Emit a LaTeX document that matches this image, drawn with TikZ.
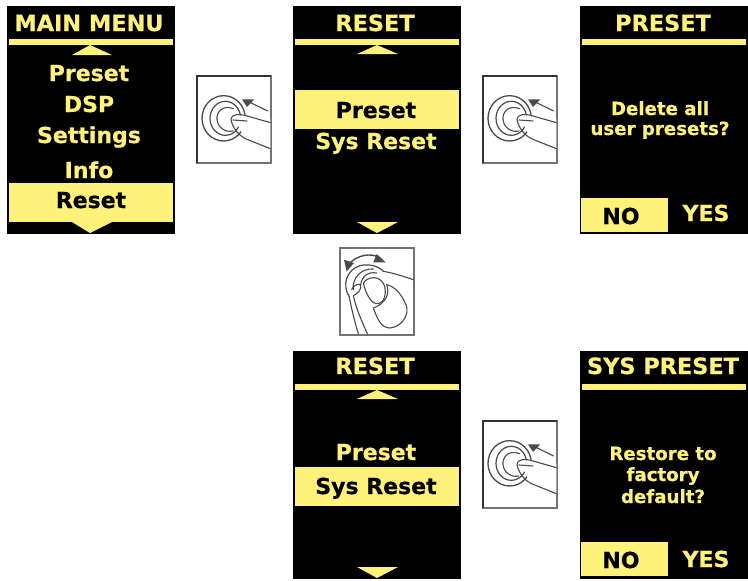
\documentclass[tikz,border=0pt]{standalone}
\usepackage{fontspec}
\setmainfont{DejaVu Sans}[BoldFeatures={FakeBold=0.5}]
\definecolor{ylw}{HTML}{FFF27A}
\definecolor{ink}{HTML}{4A4A4A}
\tikzset{
  panel/.style={fill=black,draw=none,minimum width=168pt,minimum height=228pt,anchor=north west,inner sep=0pt,outer sep=0pt},
  ttl/.style={text=ylw,font=\bfseries\fontsize{22.4}{22.4}\selectfont,inner sep=0pt,anchor=base},
  itm/.style={text=ylw,font=\bfseries\fontsize{22}{22}\selectfont,inner sep=0pt,anchor=base},
  sel/.style={text=black,font=\bfseries\fontsize{22}{22}\selectfont,inner sep=0pt,anchor=base},
  msg/.style={text=ylw,font=\bfseries\fontsize{18.2}{18.2}\selectfont,inner sep=0pt,anchor=base},
  bar/.style={fill=ylw,draw=none,inner sep=0pt,outer sep=0pt,minimum width=164pt,minimum height=6pt,anchor=north west},
  hil/.style={fill=ylw,draw=none,inner sep=0pt,outer sep=0pt,minimum width=164pt,minimum height=39pt,anchor=north west},
  nobox/.style={fill=ylw,draw=none,inner sep=0pt,outer sep=0pt,minimum width=87pt,minimum height=34pt,anchor=north west},
  iconbox/.style={draw=black!55,line width=1.2pt,fill=white,minimum width=74pt,minimum height=87pt,anchor=north west,inner sep=0pt,outer sep=0pt},
  sketch/.style={draw=ink,line width=1.1pt,line cap=round,line join=round},
  pics/press/.style={code={
    \begin{scope}[x=0.3333pt,y=-0.3333pt,shift={(-20,-20)}]
    \draw[sketch,line width=1.3pt] (100,147) ellipse [x radius=65,y radius=68];
    \draw[sketch,line width=1.2pt] (105,147) ellipse [x radius=46,y radius=51];
    \draw[sketch] (130,118) .. controls (95,105) and (78,130) .. (80,150) .. controls (82,175) and (105,190) .. (128,185);
    \fill[white] (125,135) -- (240,150) -- (240,240) -- (165,210) -- cycle;
    \draw[sketch] (240,160) -- (170,140) .. controls (145,132) and (122,135) .. (122,150) .. controls (125,170) and (140,195) .. (165,208) -- (240,238);
    \draw[sketch] (128,152) -- (170,155);
    \draw[sketch] (232,125) -- (175,97);
    \fill[ink] (155,90) -- (192,90) -- (170,113) -- cycle;
    \end{scope}
    \draw[black!80,line width=1.6pt] (0,87) -- (0,0) -- (74,0);
  }},
  pics/turn/.style={code={
    \begin{scope}[x=0.3333pt,y=-0.3333pt,shift={(-30,-25)}]
    \draw[sketch,line width=1.4pt] (55,75) .. controls (80,45) and (125,38) .. (150,55);
    \fill[ink] (42,60) -- (72,70) -- (50,95) -- cycle;
    \fill[ink] (140,43) -- (167,68) -- (130,68) -- cycle;
    \draw[sketch,line width=1.2pt] (58,172) .. controls (35,135) and (50,90) .. (90,78) .. controls (115,72) and (145,78) .. (160,95);
    \draw[sketch] (70,150) .. controls (65,115) and (95,85) .. (130,88);
    \draw[sketch] (92,135) .. controls (95,110) and (115,95) .. (140,100);
    \draw[sketch] (160,95) .. controls (190,100) and (220,110) .. (250,120);
    \draw[sketch] (65,150) .. controls (68,140) and (82,130) .. (92,135) .. controls (95,150) and (85,160) .. (70,168) .. controls (78,205) and (95,245) .. (112,282);
    \draw[sketch] (58,172) .. controls (65,210) and (75,250) .. (85,282);
    \draw[sketch] (100,130) .. controls (115,108) and (150,108) .. (162,135) .. controls (172,160) and (162,190) .. (145,192) .. controls (125,195) and (108,165) .. (100,130);
    \draw[sketch] (170,135) .. controls (180,160) and (170,190) .. (130,205);
    \draw[sketch] (170,135) .. controls (195,140) and (215,165) .. (228,195) .. controls (240,225) and (215,262) .. (180,265) .. controls (150,265) and (140,230) .. (130,205);
    \end{scope}
  }}
}
\begin{document}
\begin{tikzpicture}[x=1pt,y=-1pt]
\useasboundingbox[fill=white] (0,0) rectangle (748,581);
% panel 1
\node[panel] (p1) at (7,6) {};
\node[bar] (p1b) at (9,39) {};
\node[hil] (p1h) at (9,183) {};
\fill[ylw] (72,55) -- (90,45) -- (112,55) -- cycle;
\fill[ylw] (72,222) -- (112,222) -- (90,233) -- cycle;
\node[ttl] (t1) at (89,31) {MAIN MENU};
\node[itm] (i1) at (89,81) {Preset};
\node[itm] (i2) at (89,112) {DSP};
\node[itm] (i3) at (89,143) {Settings};
\node[itm] (i4) at (89,178) {Info};
\node[sel] (i5) at (91,208) {Reset};
% panel 2
\node[panel] (p2) at (293,6) {};
\node[bar] (p2b) at (295,39) {};
\node[hil] (p2h) at (295,90) {};
\fill[ylw] (357,54) -- (377,45) -- (398,54) -- cycle;
\fill[ylw] (357,222) -- (398,222) -- (377,233) -- cycle;
\node[ttl] (t2) at (375,31) {RESET};
\node[sel] (j1) at (376,118) {Preset};
\node[itm] (j2) at (376,149) {Sys Reset};
% panel 3
\node[panel] (p3) at (580,6) {};
\node[bar] (p3b) at (582,39) {};
\node[nobox] (p3n) at (581,198) {};
\node[ttl] (t3) at (663,31) {PRESET};
\node[msg] (m1) at (660,115) {Delete all};
\node[msg] (m2) at (660,135) {user presets?};
\node[sel] (n3) at (621,224) {NO};
\node[itm] (y3) at (706,221) {YES};
% panel 4
\node[panel] (p4) at (293,351) {};
\node[bar] (p4b) at (295,384) {};
\node[hil] (p4h) at (295,467) {};
\fill[ylw] (357,399) -- (377,390) -- (398,399) -- cycle;
\fill[ylw] (357,567) -- (398,567) -- (377,578) -- cycle;
\node[ttl] (t4) at (375,374) {RESET};
\node[itm] (k1) at (376,460) {Preset};
\node[sel] (k2) at (376,494) {Sys Reset};
% panel 5
\node[panel] (p5) at (580,351) {};
\node[bar] (p5b) at (582,384) {};
\node[nobox] (p5n) at (581,542) {};
\node[ttl] (t5) at (663,374) {SYS PRESET};
\node[msg] (q1) at (663,460) {Restore to};
\node[msg] (q2) at (663,481) {factory};
\node[msg] (q3) at (663,503) {default?};
\node[sel] (n5) at (621,568) {NO};
\node[itm] (y5) at (706,567) {YES};
% icons
\node[iconbox] (c1) at (197,76) {};
\pic at (197,76) {press};
\node[iconbox] (c2) at (483,76) {};
\pic at (483,76) {press};
\node[iconbox] (c3) at (340,248) {};
\pic at (340,248) {turn};
\node[iconbox] (c4) at (483,421) {};
\pic at (483,421) {press};
\end{tikzpicture}
\end{document}
